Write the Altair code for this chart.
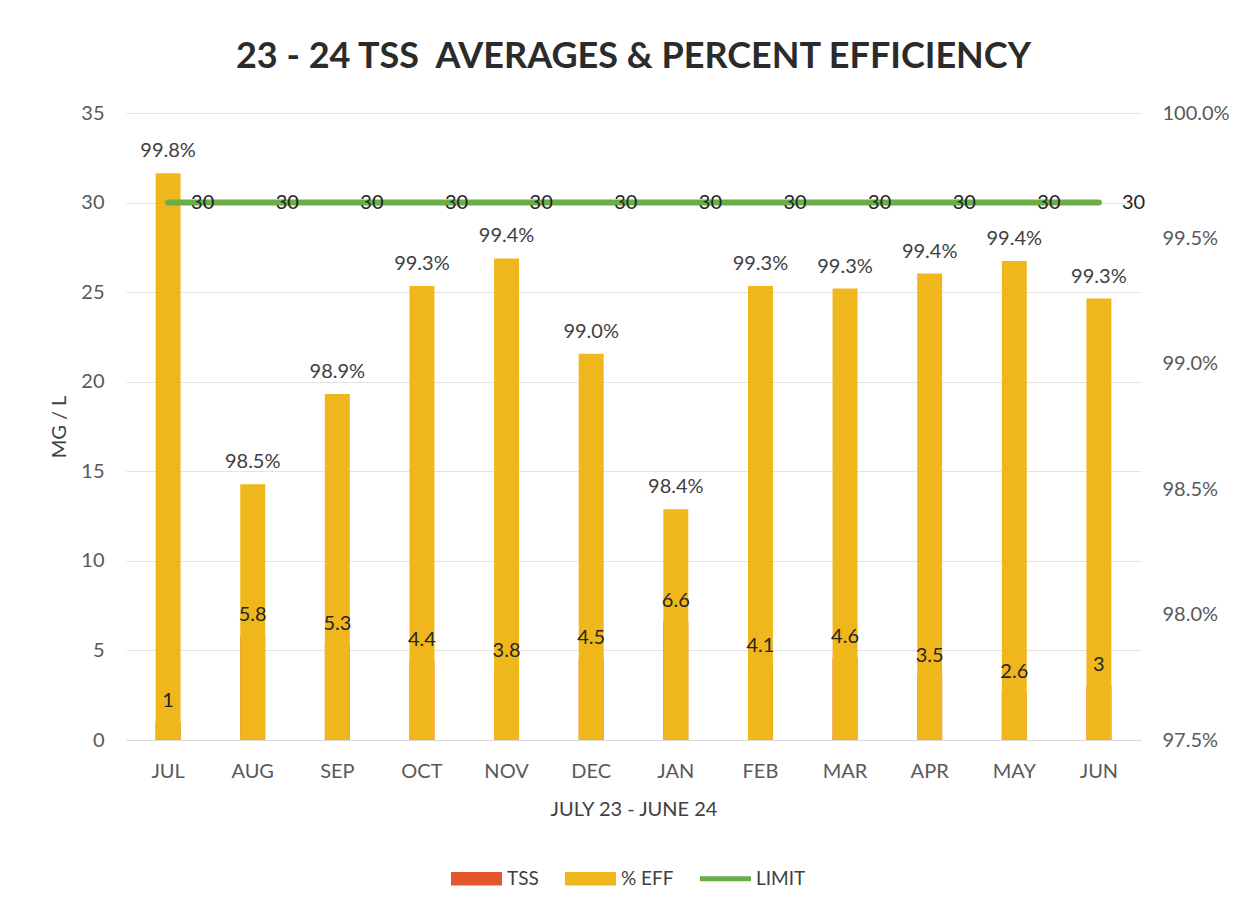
import altair as alt
import pandas as pd

months = ["JUL", "AUG", "SEP", "OCT", "NOV", "DEC", "JAN", "FEB", "MAR", "APR", "MAY", "JUN"]
tss = [1, 5.8, 5.3, 4.4, 3.8, 4.5, 6.6, 4.1, 4.6, 3.5, 2.6, 3]
eff = [99.76, 98.52, 98.88, 99.31, 99.42, 99.04, 98.42, 99.31, 99.30, 99.36, 99.41, 99.26]
limit = [30, 30, 30, 30, 30, 30, 30, 30, 30, 30, 30, 30]

series = ["TSS", "% EFF", "LIMIT"]
series_colors = ["#E4572E", "#F0B71C", "#6AAE48"]

df = pd.DataFrame({"month": months, "tss": tss, "eff": eff, "limit": limit})
df["eff_label"] = [f"{v:.1f}%" for v in eff]
df["tss_label"] = [f"{v:g}" for v in tss]
df["limit_label"] = [f"{v:g}" for v in limit]

FONT = "Lato"
RECT = "M-1,-0.26L1,-0.26L1,0.26L-1,0.26Z"
LINE = "M-1,-0.1L1,-0.1L1,0.1L-1,0.1Z"

legend = alt.Legend(
    orient="none", legendX=325, legendY=740, direction="horizontal", title=None,
    labelFont=FONT, labelFontSize=19, labelColor="#404040",
    symbolType={"expr": f"datum.value === 'LIMIT' ? '{LINE}' : '{RECT}'"},
    symbolSize=2600, symbolStrokeWidth=0, symbolOpacity=1,
    columnPadding=26, labelOffset=5,
)
color_scale = alt.Scale(domain=series, range=series_colors)


def col():
    return alt.Color("series:N", scale=color_scale, legend=legend, sort=series)


x = alt.X(
    "month:N", sort=months,
    scale=alt.Scale(paddingInner=0.705, paddingOuter=0.35),
    axis=alt.Axis(
        title="JULY 23 - JUNE 24", labelAngle=0, labelFont=FONT, labelFontSize=20,
        labelColor="#595959", labelPadding=21, ticks=False, domain=True,
        domainColor="#D9D9D9", titleFont=FONT, titleFontSize=20,
        titleFontWeight="normal", titleColor="#404040", titlePadding=18,
    ),
)

left_scale = alt.Scale(domain=[0, 35])
right_scale = alt.Scale(domain=[97.5, 100], zero=False)

base = alt.Chart(df)

tss_bar = base.mark_bar().transform_calculate(series="'TSS'").encode(
    x=x,
    y=alt.Y("tss:Q", scale=left_scale, axis=alt.Axis(
        title="MG / L", orient="left", values=[0, 5, 10, 15, 20, 25, 30, 35],
        labelFont=FONT, labelFontSize=20, labelColor="#595959", labelPadding=22,
        ticks=False, domain=False, grid=True, gridColor="#E3E3E3",
        titleFont=FONT, titleFontSize=20, titleFontWeight="normal",
        titleColor="#404040", titlePadding=11,
    )),
    color=col(),
)

eff_bar = base.mark_bar().transform_calculate(series="'% EFF'").encode(
    x=x,
    y=alt.Y("eff:Q", scale=right_scale, axis=alt.Axis(
        title=None, orient="right", values=[97.5, 98.0, 98.5, 99.0, 99.5, 100.0],
        labelExpr="format(datum.value, '.1f') + '%'",
        labelFont=FONT, labelFontSize=20, labelColor="#595959", labelPadding=21,
        ticks=False, domain=False, grid=False,
    )),
    y2=alt.Y2Datum(97.5),
    color=col(),
)

eff_text = base.mark_text(
    font=FONT, fontSize=20, color="#404040", baseline="bottom", dy=-12
).encode(
    x=x, y=alt.Y("eff:Q", scale=right_scale, axis=None), text="eff_label:N"
)

tss_text = base.mark_text(
    font=FONT, fontSize=20, color="#262626", baseline="bottom", dy=-11
).encode(
    x=x, y=alt.Y("tss:Q", scale=left_scale, axis=None), text="tss_label:N"
)

limit_line = base.mark_line(strokeWidth=6, strokeCap="round").transform_calculate(
    series="'LIMIT'"
).encode(
    x=x, y=alt.Y("limit:Q", scale=left_scale, axis=None), color=col()
)

limit_text = base.mark_text(
    font=FONT, fontSize=20, color="#262626", align="left", baseline="middle", dx=23
).encode(
    x=x, y=alt.Y("limit:Q", scale=left_scale, axis=None), text="limit_label:N"
)

chart = alt.layer(
    tss_bar, eff_bar, eff_text, tss_text, limit_line, limit_text
).resolve_scale(y="independent").properties(
    width=1015, height=627,
    title=alt.Title(
        "23 - 24 TSS\u00a0 AVERAGES & PERCENT EFFICIENCY",
        font=FONT, fontSize=36, fontWeight="bold", color="#2B2B2B",
        anchor="middle", offset=27,
    ),
    padding={"left": 41, "top": 31, "right": 5, "bottom": 10},
).configure_view(stroke=None)

chart.save("out.html", embed_options={"renderer": "svg", "actions": False})
